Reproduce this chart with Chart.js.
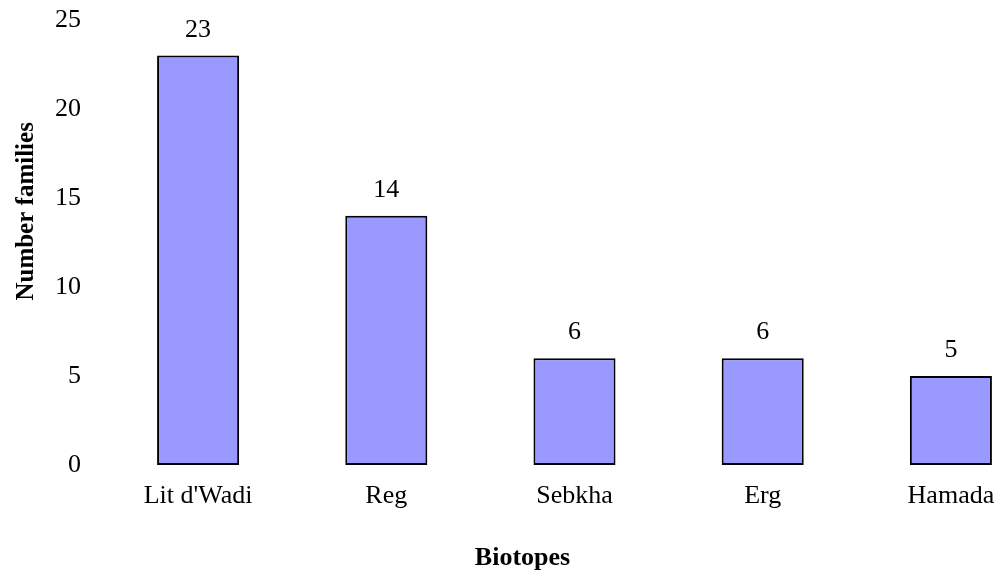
<!DOCTYPE html>
<html>
<head>
<meta charset="utf-8">
<title>Biotopes</title>
<script src="https://cdn.jsdelivr.net/npm/chart.js@4"></script>
<style>
    html, body { margin: 0; padding: 0; background: #fff; overflow: hidden; }
    #wrap { width: 997px; height: 571px; overflow: hidden; }
</style>
</head>
<body>
<div id="wrap"><canvas id="biotopeChart" width="1050" height="571"></canvas></div>
<script>
// Data
const biotopes = ["Lit d'Wadi", 'Reg', 'Sebkha', 'Erg', 'Hamada'];
const familyCounts = [23, 14, 6, 6, 5];
const yTicks = [0, 5, 10, 15, 20, 25];

const serif = '"Liberation Serif", "Times New Roman", serif';

// Draws the value above each bar and the rotated y title
const barLabels = {
    id: 'barLabels',
    afterDatasetsDraw(chart) {
        const ctx = chart.ctx;
        const meta = chart.getDatasetMeta(0);
        ctx.save();
        ctx.fillStyle = '#000';
        ctx.font = '26px ' + serif;
        ctx.textAlign = 'center';
        ctx.textBaseline = 'alphabetic';
        meta.data.forEach((bar, i) => {
            ctx.fillText(String(familyCounts[i]), bar.x, bar.y - 19);
        });

        // y axis title, a bit above the middle of the plot like the original
        const area = chart.chartArea;
        ctx.font = 'bold 25px ' + serif;
        ctx.translate(area.left - 71, area.top + (area.bottom - area.top) * 0.43);
        ctx.rotate(-Math.PI / 2);
        ctx.fillText('Number families', 0, 0);
        ctx.restore();
    }
};

const ctx = document.getElementById('biotopeChart').getContext('2d');
new Chart(ctx, {
    type: 'bar',
    data: {
        labels: biotopes,
        datasets: [{
            data: familyCounts,
            backgroundColor: '#9999ff',
            borderColor: '#000',
            borderWidth: 2,
            borderSkipped: false,
            categoryPercentage: 1,
            barPercentage: 0.436
        }]
    },
    options: {
        responsive: false,
        animation: false,
        layout: { padding: { top: 20, right: 5, left: 0, bottom: 0 } },
        plugins: {
            legend: { display: false },
            tooltip: { enabled: false },
            title: {
                display: true,
                position: 'bottom',
                text: 'Biotopes',
                color: '#000',
                font: { family: serif, size: 26, weight: 'bold', lineHeight: 1 },
                padding: { top: 0, bottom: 0 }
            }
        },
        scales: {
            x: {
                border: { display: false },
                grid: { display: false, drawTicks: false },
                ticks: { color: '#000', padding: 16, font: { family: serif, size: 26 } },
                afterFit(scale) { scale.height = 80; }
            },
            y: {
                min: 0,
                max: 25,
                border: { display: false },
                grid: { display: false, drawTicks: false },
                afterBuildTicks(scale) { scale.ticks = yTicks.map(v => ({ value: v })); },
                ticks: { color: '#000', padding: 23, font: { family: serif, size: 26 } },
                afterFit(scale) {
                    scale.width = 104;
                    scale.paddingTop = 0;
                    scale.paddingBottom = 0;
                }
            }
        }
    },
    plugins: [barLabels]
});
</script>
</body>
</html>
